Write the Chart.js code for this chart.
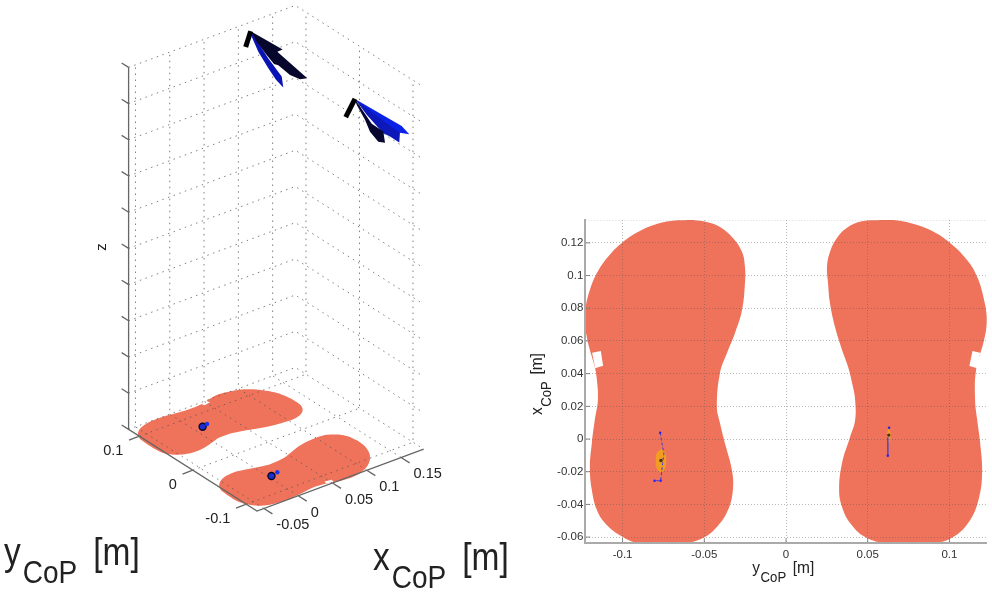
<!DOCTYPE html>
<html>
<head>
<meta charset="utf-8">
<title>CoP on the feet</title>
<script src="https://cdn.jsdelivr.net/npm/chart.js@4/dist/chart.umd.min.js"></script>
<style>
  html, body { margin: 0; background: #fff; }
  canvas { position: absolute; top: 0; filter: blur(0.35px); }
  #view3d { left: 0; }
  #viewTop { left: 525px; }
</style>
</head>
<body>
<canvas id="view3d" width="525" height="594"></canvas>
<canvas id="viewTop" width="467" height="594"></canvas>
<script>
// tick labels
const topYTicks = [-0.1, -0.05, 0, 0.05, 0.1];
const topXTicks = [-0.06, -0.04, -0.02, 0, 0.02, 0.04, 0.06, 0.08, 0.1, 0.12];
const boxXTicks = [-0.05, 0, 0.05, 0.1, 0.15];
const boxYTicks = [-0.1, 0, 0.1];
const boxZTicks = [0, 1, 2, 3, 4, 5, 6, 7, 8, 9, 10];

// foot outlines, metres
const leftFootY = [-0.0570, -0.0692, -0.0790, -0.0894, -0.0998, -0.1090, -0.1157, -0.1200, -0.1225, -0.1229, -0.1219, -0.1200, -0.1170, -0.1157, -0.1151, -0.1170, -0.1188, -0.1200, -0.1188, -0.1157, -0.1108, -0.1017, -0.0894, -0.0631, -0.0508, -0.0423, -0.0355, -0.0325, -0.0331, -0.0374, -0.0404, -0.0423, -0.0404, -0.0361, -0.0312, -0.0269, -0.0251, -0.0251, -0.0269, -0.0325, -0.0404, -0.0484, -0.0570];
const leftFootX = [0.1340, 0.1336, 0.1316, 0.1273, 0.1206, 0.1114, 0.1016, 0.0912, 0.0808, 0.0710, 0.0624, 0.0545, 0.0441, 0.0361, 0.0239, 0.0116, -0.0024, -0.0171, -0.0312, -0.0435, -0.0514, -0.0588, -0.0638, -0.0638, -0.0606, -0.0539, -0.0435, -0.0312, -0.0190, -0.0024, 0.0098, 0.0196, 0.0404, 0.0526, 0.0649, 0.0789, 0.0955, 0.1053, 0.1144, 0.1230, 0.1297, 0.1328, 0.1340];
const rightFootY = [0.0594, 0.0472, 0.0380, 0.0312, 0.0269, 0.0251, 0.0257, 0.0269, 0.0300, 0.0343, 0.0380, 0.0410, 0.0423, 0.0423, 0.0392, 0.0343, 0.0325, 0.0343, 0.0392, 0.0484, 0.0618, 0.0894, 0.1023, 0.1127, 0.1182, 0.1200, 0.1188, 0.1170, 0.1157, 0.1163, 0.1212, 0.1231, 0.1212, 0.1170, 0.1108, 0.1004, 0.0882, 0.0759, 0.0655, 0.0594];
const rightFootX = [0.1340, 0.1334, 0.1297, 0.1230, 0.1144, 0.1053, 0.0955, 0.0832, 0.0685, 0.0545, 0.0441, 0.0318, 0.0239, 0.0116, 0.0012, -0.0147, -0.0312, -0.0416, -0.0514, -0.0600, -0.0638, -0.0638, -0.0600, -0.0496, -0.0355, -0.0202, -0.0024, 0.0116, 0.0239, 0.0422, 0.0606, 0.0728, 0.0851, 0.0991, 0.1095, 0.1200, 0.1279, 0.1322, 0.1340, 0.1340];
const leftNotchY = [-0.1186, -0.1133, -0.1119, -0.1168];
const leftNotchX = [0.0528, 0.0539, 0.0449, 0.0433];
const rightNotchY = [0.1141, 0.1188, 0.1171, 0.1122];
const rightNotchX = [0.0539, 0.0528, 0.0433, 0.0447];

// CoP traces, top view
const leftEllipseY = [-0.0760, -0.0738, -0.0733, -0.0740, -0.0765, -0.0790, -0.0797, -0.0790, -0.0760];
const leftEllipseX = [-0.0060, -0.0085, -0.0130, -0.0180, -0.0203, -0.0180, -0.0130, -0.0085, -0.0060];
const leftPathY = [-0.0770, -0.0759, -0.0747, -0.0755, -0.0767, -0.0804];
const leftPathX = [0.0039, -0.0026, -0.0088, -0.0149, -0.0255, -0.0255];
const rightEllipseY = [0.0629, 0.0641, 0.0629, 0.0617, 0.0629];
const rightEllipseX = [0.0068, 0.0024, -0.0024, 0.0024, 0.0068];
const rightPathY = [0.0622, 0.0623];
const rightPathX = [0.0010, -0.0102];
const pathEndY = [-0.0770, -0.0767, -0.0804, 0.0631, 0.0623];
const pathEndX = [0.0039, -0.0255, -0.0255, 0.0069, -0.0102];
const copCentreY = [-0.0765, 0.0629];
const copCentreX = [-0.0131, 0.0024];

// CoP markers in the 3D view
const markerY = [-0.065, 0.074];
const markerX = [0.004, 0.012];
const smallMarkerY = [-0.0622, 0.076];
const smallMarkerX = [0.0147, 0.020];

// force arrows in the 3D view, all in the plane y = 0
const stemOneX = [0.0244, 0.0171];
const stemOneZ = [11.53, 11.15];
const bladeDarkOneX = [0.0244, 0.0710, 0.0632, 0.1069, 0.0963, 0.0817, 0.0647, 0.0584, 0.0477, 0.0331];
const bladeDarkOneZ = [11.53, 10.70, 10.69, 9.65, 9.70, 9.92, 10.31, 10.39, 10.71, 11.18];
const bladeBlueOneX = [0.0244, 0.0501, 0.0696, 0.0719, 0.0613, 0.0501, 0.0355, 0.0259];
const bladeBlueOneZ = [11.53, 10.60, 9.96, 9.64, 9.93, 10.33, 10.89, 11.37];
const stemTwoX = [0.1764, 0.1629];
const stemTwoZ = [8.59, 8.18];
const bladeDarkTwoX = [0.1764, 0.2008, 0.2177, 0.2202, 0.2104, 0.1983, 0.1910, 0.1789];
const bladeDarkTwoZ = [8.59, 7.73, 7.40, 7.07, 7.17, 7.53, 7.91, 8.41];
const bladeBlueTwoX = [0.1764, 0.2323, 0.2420, 0.2410, 0.2275, 0.2177, 0.1935];
const bladeBlueTwoZ = [8.59, 7.39, 7.20, 6.93, 7.19, 7.35, 8.03];
const bladeBrightTwoX = [0.1764, 0.2445, 0.2556, 0.2323, 0.2031];
const bladeBrightTwoZ = [8.59, 7.36, 7.06, 7.29, 7.96];

const xMin = -0.06, xMax = 0.183, yMin = -0.12, yMax = 0.12, zMax = 10;
const footColor = "#ee735a";
const font = "'Liberation Sans', Arial, sans-serif";

// fixed camera for the 3D box
function project(x, y, z) {
  return {
    x: 257 + (x - xMin) * 686 - (y - yMin) * 535,
    y: 511 - (x - xMin) * 255 - (y - yMin) * 340 - z * 36.2
  };
}

function footPoints(ys, xs) {
  return ys.map((y, i) => project(xs[i], y, 0));
}

function arrowPoints(xs, zs) {
  return xs.map((x, i) => project(x, 0, zs[i]));
}

function area(data, color, tension) {
  return { data, showLine: true, fill: "shape", backgroundColor: color, borderWidth: 0, pointRadius: 0, tension: tension || 0 };
}

function lines(segments, color, width, dash) {
  const data = [];
  segments.forEach(s => {
    data.push(...s, { x: NaN, y: NaN });
  });
  return { data, showLine: true, borderColor: color, borderWidth: width, borderDash: dash || [], pointRadius: 0, spanGaps: false };
}

// label with a subscript, the reference text is a bit stretched upwards
function labelWithSub(ctx, parts, x, y, angle, stretch) {
  ctx.save();
  ctx.translate(x, y);
  ctx.rotate(angle);
  ctx.scale(1, stretch);
  ctx.textAlign = "left";
  ctx.textBaseline = "alphabetic";
  ctx.fillStyle = "#222";
  ctx.font = parts.size + "px " + font;
  let pos = 0;
  ctx.fillText(parts.main, pos, 0);
  pos += ctx.measureText(parts.main).width + parts.lead;
  ctx.font = parts.subSize + "px " + font;
  ctx.fillText(parts.sub, pos, parts.drop / stretch);
  pos += ctx.measureText(parts.sub).width + parts.gap;
  ctx.font = parts.size + "px " + font;
  ctx.fillText(parts.tail, pos, 0);
  ctx.restore();
}

// 3D view: box grid first, feet, then axes and arrows
const gridSegments = [];
boxXTicks.forEach(t => {
  gridSegments.push([project(t, yMin, 0), project(t, yMax, 0), project(t, yMax, zMax)]);
});
boxYTicks.forEach(t => {
  gridSegments.push([project(xMin, t, 0), project(xMax, t, 0), project(xMax, t, zMax)]);
});
boxZTicks.forEach(z => {
  gridSegments.push([project(xMin, yMax, z), project(xMax, yMax, z), project(xMax, yMin, z)]);
});

const axisSegments = [
  [project(xMin, yMax, zMax), project(xMin, yMax, 0), project(xMin, yMin, 0), project(xMax, yMin, 0)]
];
boxXTicks.forEach(t => axisSegments.push([project(t, yMin, 0), project(t, yMin - 0.016, 0)]));
boxYTicks.forEach(t => axisSegments.push([project(xMin, t, 0), project(xMin - 0.015, t, 0)]));
boxZTicks.forEach(z => axisSegments.push([project(xMin, yMax, z), project(xMin, yMax + 0.013, z)]));

const scene = [
  area(footPoints(leftFootY, leftFootX), footColor, 0.4),
  area(footPoints(rightFootY, rightFootX), footColor, 0.4),
  area(footPoints(leftNotchY, leftNotchX), "#fff"),
  area(footPoints(rightNotchY, rightNotchX), "#fff"),
  lines(gridSegments, "rgba(85,85,85,0.75)", 1, [1.5, 4.5]),
  lines(axisSegments, "#666", 1.3),
  {
    data: footPoints(markerY, markerX), showLine: false, pointRadius: 3.5,
    pointBackgroundColor: "#1c2fd0", pointBorderColor: "#08082a", pointBorderWidth: 1.4
  },
  {
    data: footPoints(smallMarkerY, smallMarkerX), showLine: false, pointRadius: 2.2,
    pointBackgroundColor: "#1c35f0", pointBorderWidth: 0
  },
  area(arrowPoints(bladeBlueOneX, bladeBlueOneZ), "#0a14b4"),
  area(arrowPoints(bladeDarkOneX, bladeDarkOneZ), "#07072e"),
  lines([arrowPoints(stemOneX, stemOneZ)], "#000", 5),
  area(arrowPoints(bladeBrightTwoX, bladeBrightTwoZ), "#0a22e6"),
  area(arrowPoints(bladeBlueTwoX, bladeBlueTwoZ), "#0c18b8"),
  area(arrowPoints(bladeDarkTwoX, bladeDarkTwoZ), "#060630"),
  lines([arrowPoints(stemTwoX, stemTwoZ)], "#000", 5)
];
scene.forEach((d, i) => { d.order = scene.length - i; });

const sceneLabels = {
  id: "sceneLabels",
  afterDraw(chart) {
    const { ctx, scales } = chart;
    const place = p => ({ x: scales.x.getPixelForValue(p.x), y: scales.y.getPixelForValue(p.y) });
    ctx.save();
    ctx.fillStyle = "#222";
    ctx.font = "14.5px " + font;
    ctx.textBaseline = "middle";
    ctx.textAlign = "right";
    boxYTicks.forEach(t => {
      const p = place(project(xMin, t, 0));
      ctx.fillText(String(t), p.x - 16, p.y + 15);
    });
    ctx.textAlign = "left";
    boxXTicks.forEach(t => {
      const p = place(project(t, yMin, 0));
      ctx.fillText(String(t), p.x + 12.5, p.y + 17);
    });
    ctx.translate(106, 247);
    ctx.rotate(-Math.PI / 2);
    ctx.textAlign = "center";
    ctx.font = "15px " + font;
    ctx.textBaseline = "alphabetic";
    ctx.fillText("z", 0, 0);
    ctx.restore();
    const big = { main: "y", sub: "CoP", tail: "[m]", size: 33.5, subSize: 28, drop: 18, lead: 2, gap: 16 };
    labelWithSub(ctx, big, 4, 565, 0, 1.14);
    labelWithSub(ctx, { ...big, main: "x" }, 373, 570, 0, 1.14);
  }
};

new Chart(document.getElementById("view3d"), {
  type: "scatter",
  data: { datasets: scene },
  options: {
    responsive: false,
    animation: false,
    layout: { padding: 0, autoPadding: false },
    plugins: { legend: { display: false }, tooltip: { enabled: false } },
    scales: {
      x: { display: false, min: 0, max: 525 },
      y: { display: false, min: 0, max: 594, reverse: true }
    }
  },
  plugins: [sceneLabels]
});

// top view
function toPoints(ys, xs) {
  return ys.map((y, i) => ({ x: y, y: xs[i] }));
}

const topLeft = -0.1228, topRight = 0.1228, topBottom = -0.0638, topTop = 0.134;
const topGrid = "rgba(85,85,85,0.42)";

const tickSegments = [];
topYTicks.forEach(t => tickSegments.push([{ x: t, y: topBottom }, { x: t, y: topBottom + 0.003 }]));
topXTicks.forEach(t => tickSegments.push([{ x: topLeft, y: t }, { x: topLeft + 0.003, y: t }]));

const topSets = [
  area(toPoints(leftFootY, leftFootX), footColor, 0.4),
  area(toPoints(rightFootY, rightFootX), footColor, 0.4),
  area(toPoints(leftNotchY, leftNotchX), "#fff"),
  area(toPoints(rightNotchY, rightNotchX), "#fff"),
  area(toPoints(leftEllipseY, leftEllipseX), "#f39c22", 0.4),
  area(toPoints(rightEllipseY, rightEllipseX), "#f0a028", 0.4),
  lines([toPoints(leftPathY, leftPathX)], "#3a3ad8", 1, [3, 2]),
  lines([toPoints(rightPathY, rightPathX)], "#5a4ac0", 1),
  {
    data: toPoints(pathEndY, pathEndX),
    showLine: false, pointRadius: 1.2, pointBackgroundColor: "#2020f0", pointBorderWidth: 0
  },
  {
    data: toPoints(copCentreY, copCentreX), showLine: false, pointRadius: 1.7,
    pointBackgroundColor: "#4a3010", pointBorderWidth: 0
  },
  lines([[{ x: topLeft, y: topTop }, { x: topRight, y: topTop }]], topGrid, 1, [1, 2]),
  lines(tickSegments, "#888", 1)
];
topSets.forEach((d, i) => { d.order = topSets.length - i; });

const topLabels = {
  id: "topLabels",
  afterDraw(chart) {
    const small = { main: "y", sub: "CoP", tail: "[m]", size: 15.5, subSize: 13.2, drop: 8.5, lead: 0.5, gap: 6.5 };
    labelWithSub(chart.ctx, small, 227.3, 573, 0, 1.08);
    labelWithSub(chart.ctx, { ...small, main: "x" }, 17, 415, -Math.PI / 2, 1.08);
  }
};

new Chart(document.getElementById("viewTop"), {
  type: "scatter",
  data: { datasets: topSets },
  options: {
    responsive: false,
    animation: false,
    layout: { padding: { top: 220, right: 5.3, left: 0, bottom: 0 }, autoPadding: false },
    plugins: { legend: { display: false }, tooltip: { enabled: false } },
    scales: {
      x: {
        min: topLeft, max: topRight,
        afterBuildTicks: s => { s.ticks = topYTicks.map(value => ({ value })); },
        afterFit: s => { s.height = 50.7; },
        border: { color: "#aaa", width: 2, dash: [1, 2], z: 2 },
        grid: { color: topGrid, drawTicks: false, z: 1 },
        ticks: { color: "#333", padding: 5, maxRotation: 0, font: { family: font, size: 11.5 }, callback: v => String(v) }
      },
      y: {
        min: topBottom, max: topTop,
        afterBuildTicks: s => { s.ticks = topXTicks.map(value => ({ value })); },
        afterFit: s => { s.width = 60.3; },
        border: { color: "#aaa", width: 2, dash: [1, 2], z: 2 },
        grid: { color: topGrid, drawTicks: false, z: 1 },
        ticks: { color: "#333", padding: 2, font: { family: font, size: 11.5 }, callback: v => String(v) }
      }
    }
  },
  plugins: [topLabels]
});
</script>
</body>
</html>
